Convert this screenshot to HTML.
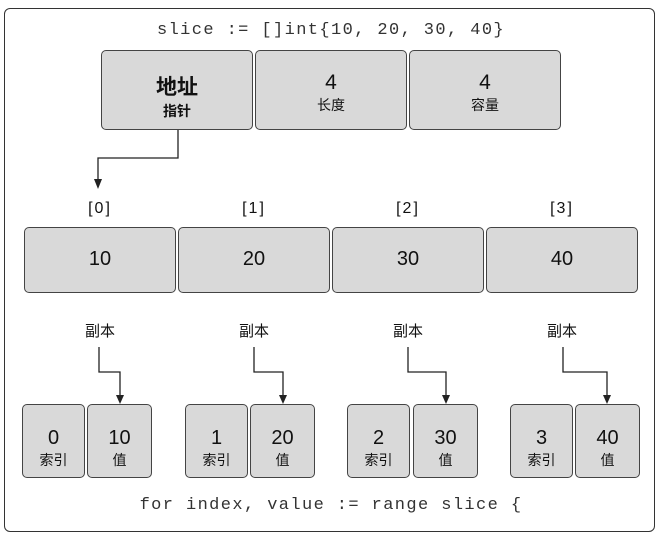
<!DOCTYPE html><html><head><style>
body{margin:0;background:#fff;width:658px;height:537px;position:relative;overflow:hidden;font-family:"Liberation Sans","Noto Sans CJK SC",sans-serif;}
.b{position:absolute;background:#d9d9d9;border:1.5px solid #444;border-radius:5px;box-sizing:border-box;text-align:center;color:#111;}
.t{position:absolute;font-size:15px;color:#111;transform:translateX(-50%);white-space:nowrap}
.mono{font-family:"Liberation Mono",monospace;font-size:17px;letter-spacing:1.4px;color:#333;position:absolute;transform:translateX(-50%);white-space:nowrap}
</style></head><body>
<div style="position:absolute;left:4px;top:8px;width:651px;height:524px;border:1.5px solid #333;border-radius:6px;box-sizing:border-box"></div>
<div class="mono" style="left:331px;top:21px">slice := []int{10, 20, 30, 40}</div>
<div class="b" style="left:101px;top:50px;width:152px;height:80px;padding-top:20px"><div style="font-size:21px;font-weight:bold">地址</div><div style="font-size:14px;font-weight:bold">指针</div></div>
<div class="b" style="left:255px;top:50px;width:152px;height:80px;padding-top:20px"><div style="font-size:21px">4</div><div style="font-size:14px">长度</div></div>
<div class="b" style="left:409px;top:50px;width:152px;height:80px;padding-top:20px"><div style="font-size:21px">4</div><div style="font-size:14px">容量</div></div>
<svg style="position:absolute;left:0;top:0" width="658" height="537">
<g stroke="#222" stroke-width="1.3" fill="none">
<path d="M178,130V158H98V180"/>
<path d="M99,347V372H120V396"/>
<path d="M254,347V372H283V396"/>
<path d="M408,347V372H446V396"/>
<path d="M563,347V372H607V396"/>
</g>
<g fill="#222"><path d="M94,179h8l-4,10z"/><path d="M116,395h8l-4,9z"/><path d="M279,395h8l-4,9z"/><path d="M442,395h8l-4,9z"/><path d="M603,395h8l-4,9z"/></g>
</svg>
<div class="t" style="left:100px;top:200px;font-size:16px;letter-spacing:2px">[0]</div>
<div class="t" style="left:254px;top:200px;font-size:16px;letter-spacing:2px">[1]</div>
<div class="t" style="left:408px;top:200px;font-size:16px;letter-spacing:2px">[2]</div>
<div class="t" style="left:562px;top:200px;font-size:16px;letter-spacing:2px">[3]</div>
<div class="b" style="left:24px;top:227px;width:152px;height:66px;line-height:63px;font-size:20px">10</div>
<div class="b" style="left:178px;top:227px;width:152px;height:66px;line-height:63px;font-size:20px">20</div>
<div class="b" style="left:332px;top:227px;width:152px;height:66px;line-height:63px;font-size:20px">30</div>
<div class="b" style="left:486px;top:227px;width:152px;height:66px;line-height:63px;font-size:20px">40</div>
<div class="t" style="left:100px;top:320px">副本</div>
<div class="t" style="left:254px;top:320px">副本</div>
<div class="t" style="left:408px;top:320px">副本</div>
<div class="t" style="left:562px;top:320px">副本</div>
<div class="b" style="left:22px;top:404px;width:63px;height:74px;padding-top:22px"><div style="font-size:20px">0</div><div style="font-size:14px">索引</div></div>
<div class="b" style="left:87px;top:404px;width:65px;height:74px;padding-top:22px"><div style="font-size:20px">10</div><div style="font-size:14px">值</div></div>
<div class="b" style="left:185px;top:404px;width:63px;height:74px;padding-top:22px"><div style="font-size:20px">1</div><div style="font-size:14px">索引</div></div>
<div class="b" style="left:250px;top:404px;width:65px;height:74px;padding-top:22px"><div style="font-size:20px">20</div><div style="font-size:14px">值</div></div>
<div class="b" style="left:347px;top:404px;width:63px;height:74px;padding-top:22px"><div style="font-size:20px">2</div><div style="font-size:14px">索引</div></div>
<div class="b" style="left:413px;top:404px;width:65px;height:74px;padding-top:22px"><div style="font-size:20px">30</div><div style="font-size:14px">值</div></div>
<div class="b" style="left:510px;top:404px;width:63px;height:74px;padding-top:22px"><div style="font-size:20px">3</div><div style="font-size:14px">索引</div></div>
<div class="b" style="left:575px;top:404px;width:65px;height:74px;padding-top:22px"><div style="font-size:20px">40</div><div style="font-size:14px">值</div></div>
<div class="mono" style="left:331px;top:496px">for index, value := range slice {</div>
</body></html>
